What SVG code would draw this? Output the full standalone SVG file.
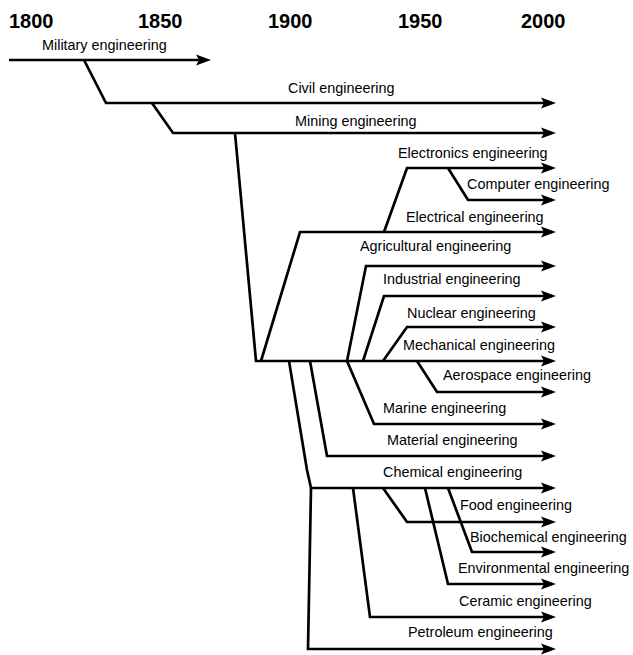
<svg xmlns="http://www.w3.org/2000/svg" width="633" height="655" viewBox="0 0 633 655">
<style>
.yr{font-family:"Liberation Sans",Arial,sans-serif;font-weight:bold;font-size:20px;fill:#000}
.lb{font-family:"Liberation Sans",Arial,sans-serif;font-size:14.4px;fill:#000}
.ln{fill:none;stroke:#000;stroke-width:2.7;stroke-linejoin:miter;marker-end:url(#ah)}
.nl{fill:none;stroke:#000;stroke-width:2.7;stroke-linejoin:miter}
</style>
<defs>
<marker id="ah" markerUnits="userSpaceOnUse" markerWidth="16" markerHeight="12" refX="7" refY="6" orient="auto">
<path d="M0,0.5 L15,6 L0,11.5 L3,6 z" fill="#000"/>
</marker>
</defs>
<rect width="633" height="655" fill="#fff"/>
<g id="years">
<text class="yr" x="9" y="28">1800</text>
<text class="yr" x="138" y="28">1850</text>
<text class="yr" x="268" y="28">1900</text>
<text class="yr" x="398" y="28">1950</text>
<text class="yr" x="521" y="28">2000</text>
</g>
<g id="connectors">
<path class="ln" d="M9,60 L203,60"/>
<path class="ln" d="M84,60 L106,103 L548,103"/>
<path class="ln" d="M152,103 L173,133 L548,133"/>
<path class="ln" d="M235,133 L256,361 L548,361"/>
<path class="ln" d="M261,361 L300,232 L548,232"/>
<path class="ln" d="M384,232 L407,168 L548,168"/>
<path class="ln" d="M448,168 L468,200 L548,200"/>
<path class="ln" d="M347,361 L366,266 L548,266"/>
<path class="ln" d="M363,361 L384,296 L548,296"/>
<path class="ln" d="M383,361 L407,327 L548,327"/>
<path class="ln" d="M417,361 L437,392 L548,392"/>
<path class="ln" d="M347,361 L374,424 L548,424"/>
<path class="ln" d="M310,361 L327,456 L548,456"/>
<path class="ln" d="M289,361 L307,470 L311,488 L548,488"/>
<path class="ln" d="M311,488 L308,649 L548,649"/>
<path class="ln" d="M353,488 L370,617 L548,617"/>
<path class="ln" d="M383,488 L407,522 L548,522"/>
<path class="ln" d="M425,488 L448,584 L548,584"/>
<path class="ln" d="M448,488 L472,552 L548,552"/>
</g>
<g id="military"><text class="lb" x="42" y="50">Military engineering</text></g>
<g id="civil"><text class="lb" x="288" y="93">Civil engineering</text></g>
<g id="mining"><text class="lb" x="295" y="126">Mining engineering</text></g>
<g id="electronics"><text class="lb" x="398" y="158">Electronics engineering</text></g>
<g id="computer"><text class="lb" x="467" y="189">Computer engineering</text></g>
<g id="electrical"><text class="lb" x="406" y="222">Electrical engineering</text></g>
<g id="agricultural"><text class="lb" x="360" y="251">Agricultural engineering</text></g>
<g id="industrial"><text class="lb" x="383" y="284">Industrial engineering</text></g>
<g id="nuclear"><text class="lb" x="407" y="318">Nuclear engineering</text></g>
<g id="mechanical"><text class="lb" x="403" y="350">Mechanical engineering</text></g>
<g id="aerospace"><text class="lb" x="443" y="380">Aerospace engineering</text></g>
<g id="marine"><text class="lb" x="383" y="413">Marine engineering</text></g>
<g id="material"><text class="lb" x="387" y="445">Material engineering</text></g>
<g id="chemical"><text class="lb" x="383" y="477">Chemical engineering</text></g>
<g id="food"><text class="lb" x="460" y="510">Food engineering</text></g>
<g id="biochemical"><text class="lb" x="470" y="542">Biochemical engineering</text></g>
<g id="environmental"><text class="lb" x="458" y="573">Environmental engineering</text></g>
<g id="ceramic"><text class="lb" x="459" y="606">Ceramic engineering</text></g>
<g id="petroleum"><text class="lb" x="408" y="637">Petroleum engineering</text></g>
</svg>
